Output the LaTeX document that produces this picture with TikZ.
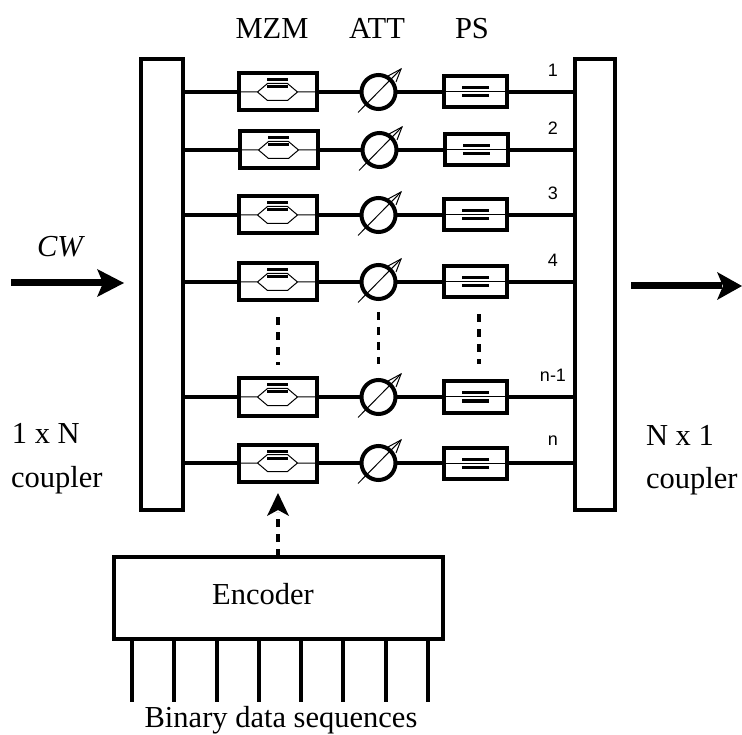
\documentclass[tikz,border=0pt]{standalone}
\usepackage{fontspec}
\setmainfont{Liberation Serif}
\newfontfamily\lblfont{Liberation Sans}
\usetikzlibrary{calc}
\tikzset{
 x=1pt,y=-1pt,
 every node/.style={inner sep=0,outer sep=0},
 box/.style={draw,line width=4pt,minimum width=#1},
 wire/.style={line width=3.6pt},
 thinl/.style={line width=1pt},
 bar/.style={line width=3pt},
 dotted line/.style={line width=3.4pt,dash pattern=on 8pt off 7pt},
 lab/.style={font=\fontsize{30.5}{33}\selectfont,anchor=base},
 labw/.style={font=\fontsize{30.5}{33}\selectfont,anchor=base west},
 num/.style={font=\lblfont\fontsize{18}{20}\selectfont}
}
\newcommand{\rowunit}[4]{% id, y, x-shift, label
 \node[box=78pt,minimum height=37pt] (m#1) at (277.5+#3,#2) {};
 \node[draw,line width=4pt,circle,minimum size=34pt] (a#1) at (378.5+#3,#2) {};
 \node[box=63pt,minimum height=31pt] (p#1) at (475.5+#3,#2) {};
 \draw[wire] (lc.east |- m#1.west) -- (m#1.west);
 \draw[wire] (m#1.east) -- (a#1.west);
 \draw[wire] (a#1.east) -- (p#1.west);
 \draw[wire] (p#1.east) -- (rc.west |- p#1.east);
 \begin{scope}[shift={(277.5+#3,#2)}]
  \draw[thinl] (-39,0) -- (-20,0) -- (-10,-8.5) -- (10,-8.5) -- (20,0) -- (39,0);
  \draw[thinl] (-20,0) -- (-10,8.5) -- (10,8.5) -- (20,0);
  \draw[bar] (-10.5,-12) -- (10.5,-12);
  \draw[bar] (-10.5,-5) -- (10.5,-5);
 \end{scope}
 \begin{scope}[shift={(475.5+#3,#2)}]
  \draw[thinl] (-31,0) -- (31,0);
  \draw[bar] (-13.5,-4) -- (13.5,-4);
  \draw[bar] (-13.5,4) -- (13.5,4);
 \end{scope}
 \begin{scope}[shift={(378.5+#3,#2)}]
  \draw[thinl] (-20.5,20.5) -- (22.5,-23);
  \draw[thinl] (9.5,-16) -- (22.5,-23) -- (17.5,-10);
 \end{scope}
 \node[num] (n#1) at (553,#2-22) {#4};
}
\begin{document}
\begin{tikzpicture}
\useasboundingbox (0,0) rectangle (742,735);
\node[box=42pt,minimum height=451pt] (lc) at (162,284.5) {};
\node[box=40pt,minimum height=451pt] (rc) at (595,284.5) {};
\rowunit{1}{92}{0}{1}
\rowunit{2}{150}{1}{2}
\rowunit{3}{215}{0}{3}
\rowunit{4}{282}{0}{4}
\rowunit{5}{397}{0}{n-1}
\rowunit{6}{463}{0}{n}
\node[box=329pt,minimum height=82pt] (enc) at (278.5,598) {};
\node[lab] (enct) at (263,604) {Encoder};
\node[lab] (t1) at (272,39) {MZM};
\node[lab] (t2) at (377,39) {ATT};
\node[lab] (t3) at (472,39) {PS};
\node[lab,font=\itshape\fontsize{30.5}{33}\selectfont] (cw) at (60,257) {CW};
\node[labw] (l1) at (12,443) {1 x N};
\node[labw] (l2) at (11,487) {coupler};
\node[labw] (r1) at (646,445) {N x 1};
\node[labw] (r2) at (646,488) {coupler};
\node[lab] (bin) at (281,727.5) {Binary data sequences};
% thick arrows
\coordinate (cwa) at (11,283);
\coordinate (cwe) at (124,283);
\coordinate (outa) at (631,286);
\coordinate (oute) at (742,286);
\draw[line width=7pt] (cwa) -- ($(cwe)+(-20,0)$);
\fill (cwe) -- ++(-27,-14) -- ++(6,14) -- ++(-6,14) -- cycle;
\draw[line width=7pt] (outa) -- ($(oute)+(-20,0)$);
\fill (oute) -- ++(-25,-14) -- ++(6,14) -- ++(-6,14) -- cycle;
% continuation dots
\draw[dotted line] (m4.south) ++(0.5,17) -- ++(0,48);
\draw[dotted line] (a4.south) ++(0,13) -- ++(0,52);
\draw[dotted line] (p4.south) ++(3.5,17) -- ++(0,50);
% encoder link
\coordinate (tip) at (278,493);
\draw[line width=3.4pt,dash pattern=on 8pt off 7pt] (tip |- enc.north) -- (278,512);
\fill (tip) -- (289,516) -- (278,510) -- (267,516) -- cycle;
\foreach \i/\x in {1/132,2/174,3/217,4/259,5/301,6/343,7/386,8/428}
  \draw[line width=3.6pt] (\x,640) -- (\x,702);
\end{tikzpicture}
\end{document}
